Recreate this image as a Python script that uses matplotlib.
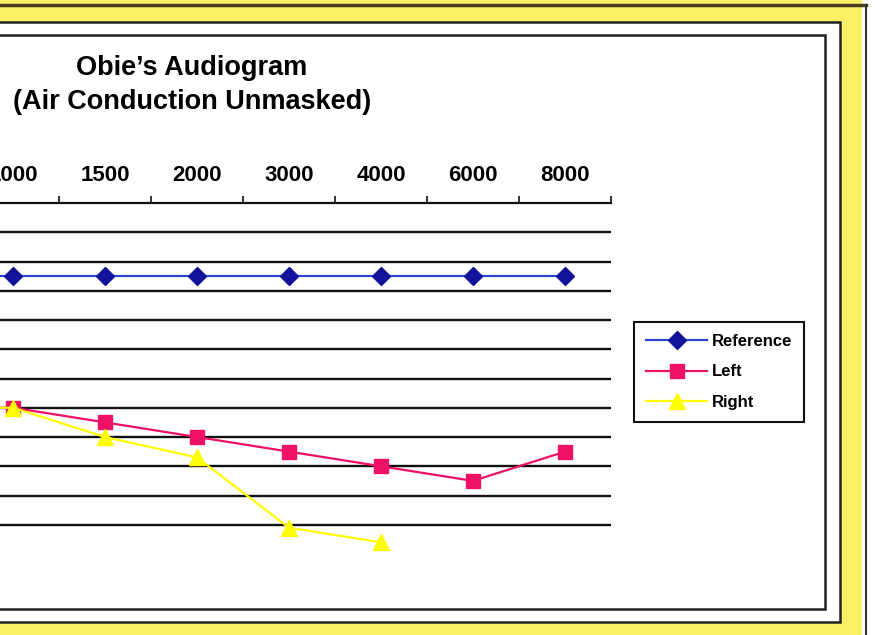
import numpy as np
import matplotlib
matplotlib.use("Agg")
from matplotlib import pyplot as plt
from matplotlib.patches import Rectangle
from matplotlib.lines import Line2D

# data (hearing level in dB, larger = worse)
freqs = ['250', '500', '1000', '1500', '2000', '3000', '4000', '6000', '8000']
reference = [25, 25, 25, 25, 25, 25, 25, 25, 25]
left = [65, 70, 70, 75, 80, 85, 90, 95, 85]
right = [65, 70, 70, 80, 87, 111, 116, np.nan, np.nan]

W, H = 875, 635
plt.rcParams['font.family'] = ['Liberation Sans', 'DejaVu Sans']
fig = plt.figure(figsize=(W / 100, H / 100), dpi=100)
fig.patch.set_facecolor('#FAF066')


def px_rect(x0, y0, x1, y1, **kw):
    # rectangle in picture pixels (y measured from top)
    r = Rectangle((x0 / W, 1 - y1 / H), (x1 - x0) / W, (y1 - y0) / H,
                  transform=fig.transFigure, **kw)
    fig.patches.append(r)


def px_line(xs, ys, **kw):
    fig.lines.append(Line2D([x / W for x in xs], [1 - y / H for y in ys],
                            transform=fig.transFigure, **kw))


# scanned frame
px_rect(862, 0, 880, 640, facecolor='white', edgecolor='none', zorder=-3)
px_line([0, 866], [5, 5], color='#4a4020', lw=2.5, zorder=-2.5)
px_line([866, 866], [5, 640], color='#333333', lw=1.5, zorder=-2.5)
px_rect(-10, 22, 840, 622, facecolor='white', edgecolor='#222222', lw=1.8, zorder=-2)
px_rect(-10, 35, 825, 609, facecolor='white', edgecolor='#222222', lw=1.8, zorder=-1)

# plot area (its left part lies outside the scanned picture)
ax = fig.add_axes([-217 / W, 1 - 554 / H, 828 / W, 351 / H])
ax.set_zorder(2)
ax.patch.set_visible(False)

x = np.arange(len(freqs))
ax.plot(x, reference, color='#2E44D0', lw=1.6, marker='D', markersize=9,
        markerfacecolor='#13139A', markeredgecolor='#13139A', label='Reference', zorder=4)
ax.plot(x, left, color='#EE1166', lw=1.6, marker='s', markersize=10,
        markerfacecolor='#EE1166', markeredgecolor='#EE1166', label='Left', zorder=4)
ax.plot(x, right, color='#FFFF00', lw=1.6, marker='^', markersize=11,
        markerfacecolor='#FFFF00', markeredgecolor='#FFFF00', label='Right', zorder=4)

ax.set_xlim(-0.5, len(freqs) - 0.5)
ax.set_ylim(120, 0)
ax.set_yticks(np.arange(10, 111, 10))
ax.set_yticklabels([])
ax.tick_params(axis='y', length=0)
ax.yaxis.grid(True, color='#111111', lw=1.7)
ax.set_axisbelow(True)

ax.xaxis.tick_top()
ax.set_xticks(x)
ax.set_xticklabels(freqs, fontsize=16, fontweight='bold')
ax.set_xticks(np.arange(-0.5, len(freqs), 1), minor=True)
ax.tick_params(axis='x', which='major', length=0, pad=12)
ax.tick_params(axis='x', which='minor', length=5, width=1.2, direction='out', color='#111111')

for s in ['left', 'right', 'bottom']:
    ax.spines[s].set_visible(False)
ax.spines['top'].set_linewidth(1.6)
ax.spines['top'].set_color('#111111')

fig.text(192 / W, 1 - 68 / H, "Obie\u2019s Audiogram", ha='center', va='center',
         fontsize=19.5, fontweight='bold')
fig.text(192 / W, 1 - 102 / H, "(Air Conduction Unmasked)", ha='center', va='center',
         fontsize=19.5, fontweight='bold')

leg = fig.legend(loc='upper left', bbox_to_anchor=(634 / W, 1 - 322 / H),
                 prop={'weight': 'bold', 'size': 12}, handlelength=3.7,
                 fancybox=False, framealpha=1, edgecolor='#111111',
                 borderpad=0.7, labelspacing=0.95, handletextpad=0.3,
                 borderaxespad=0)
leg.get_frame().set_linewidth(1.5)
leg.set_zorder(5)

fig.savefig('out.png', dpi=100, facecolor=fig.get_facecolor())
